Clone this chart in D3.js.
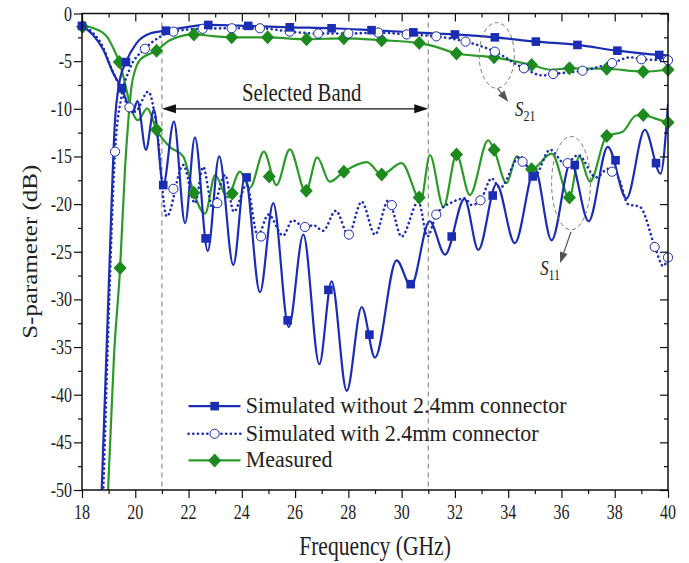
<!DOCTYPE html>
<html>
<head>
<meta charset="utf-8">
<script src="https://cdn.jsdelivr.net/npm/d3@7"></script>
<style>
  body { margin: 0; background: #fff; }
  text { font-family: "Liberation Serif", "Times New Roman", serif; fill: #222; }
</style>
</head>
<body>
<svg id="chart" width="689" height="563"></svg>
<script>
// ---- data (GHz, dB) ----
const xMajor = [18, 20, 22, 24, 26, 28, 30, 32, 34, 36, 38, 40];
const xMinor = d3.range(19, 40, 2);
const yMajor = [0, -5, -10, -15, -20, -25, -30, -35, -40, -45, -50];
const yMinor = d3.range(-2.5, -50, -5);

// S11, simulated without connector (solid blue)
const s11Sim = [[18.0,-1.3],[18.4,-2.2],[18.8,-3.8],[19.18,-6.3],[19.49,-7.85],[19.75,-9.7],[19.9,-10.4],
  [20.08,-9.2],[20.4,-14.3],[20.7,-10.1],[21.05,-18.0],[21.45,-11.35],[21.87,-22.0],[22.24,-13.0],
  [22.72,-24.9],[23.15,-15.0],[23.68,-26.4],[24.12,-17.05],[24.68,-29.25],[25.18,-19.9],[25.76,-32.9],
  [26.31,-23.2],[26.91,-36.8],[27.37,-28.1],[27.94,-39.6],[28.5,-30.8],[29.0,-36.1],[29.81,-25.9],
  [30.35,-28.6],[31.05,-21.8],[31.63,-25.3],[32.36,-19.45],[32.88,-24.8],[33.56,-17.9],[34.25,-24.1],
  [35.0,-16.3],[35.63,-23.8],[36.35,-15.6],[37.02,-21.8],[37.74,-14.0],[38.44,-19.4],[39.13,-12.2],
  [39.72,-16.8],[40.0,-9.5]];
const s11SimMarks = [[18.0,-1.3],[19.49,-7.85],[21.05,-18.0],[22.64,-23.6],[24.18,-17.2],[25.72,-32.2],
  [27.25,-29.0],[28.79,-33.7],[30.34,-28.4],[31.88,-23.4],[33.42,-19.1],[34.92,-17.1],[36.5,-15.9],
  [38.03,-15.4],[39.55,-15.7]];

// S21, simulated without connector (solid blue)
const s21Sim = [[18.55,-65],[18.74,-50],[19.0,-29],[19.24,-11.2],[19.4,-7.3],[19.65,-5.1],[20.05,-3.1],
  [20.55,-2.1],[21.15,-1.8],[22.0,-1.4],[22.74,-1.2],[24.24,-1.3],[25.8,-1.45],[27.37,-1.55],[28.87,-1.75],
  [30.44,-1.98],[32.0,-2.2],[33.5,-2.5],[35.04,-2.95],[36.6,-3.3],[38.1,-3.9],[39.67,-4.35],[40.0,-4.4]];
const s21SimMarks = [[19.65,-5.1],[21.15,-1.8],[22.74,-1.2],[24.24,-1.3],[25.8,-1.45],[27.37,-1.55],
  [28.87,-1.75],[30.44,-1.98],[32.0,-2.2],[33.5,-2.5],[35.04,-2.95],[36.6,-3.3],[38.1,-3.9],[39.67,-4.35]];

// S11, simulated with connector (dotted blue)
const s11Conn = [[18.0,-1.3],[18.4,-2.0],[18.8,-3.6],[19.05,-5.4],[19.35,-7.3],[19.55,-8.7],[19.78,-9.85],
  [19.99,-10.3],[20.49,-8.2],[20.8,-11.9],[21.18,-21.3],[21.8,-15.9],[22.24,-19.9],[22.55,-16.1],
  [22.9,-20.4],[23.37,-16.95],[23.7,-20.8],[24.18,-18.0],[24.6,-23.3],[25.0,-21.1],[25.55,-23.3],
  [25.9,-21.7],[26.4,-22.5],[26.68,-22.2],[27.05,-22.8],[27.53,-20.7],[28.0,-23.2],[28.5,-19.75],
  [29.0,-23.2],[29.5,-19.6],[30.0,-23.4],[30.63,-19.75],[30.97,-23.4],[31.3,-21.1],[31.94,-19.75],
  [32.38,-19.4],[32.63,-20.1],[32.96,-19.6],[33.38,-17.3],[33.69,-18.3],[34.44,-15.0],[34.98,-17.1],
  [35.57,-14.3],[36.15,-15.8],[36.63,-14.85],[37.3,-17.2],[37.75,-16.3],[38.15,-17.3],[38.5,-20.0],
  [38.95,-20.3],[39.5,-24.4],[39.82,-26.5],[40.0,-25.6]];
const s11ConnMarks = [[19.78,-9.85],[21.43,-18.4],[23.08,-19.9],[24.72,-23.4],[26.37,-22.4],[28.02,-23.2],
  [29.63,-20.1],[31.3,-21.1],[32.96,-19.6],[34.54,-15.55],[36.23,-15.7],[37.9,-16.6],[39.5,-24.5],[40.0,-25.6]];

// S21, simulated with connector (dotted blue)
const s21Conn = [[18.6,-65],[18.8,-50],[19.0,-32],[19.24,-14.5],[19.5,-8.5],[19.78,-5.9],[20.36,-3.7],
  [20.9,-2.5],[21.43,-1.9],[22.53,-1.6],[23.62,-1.55],[24.68,-1.55],[25.8,-1.9],[26.87,-2.1],[28.0,-2.1],
  [29.12,-2.0],[30.19,-2.2],[31.3,-2.4],[32.4,-2.95],[33.5,-4.0],[34.59,-5.75],[35.3,-6.5],[35.69,-6.35],
  [36.79,-6.0],[37.9,-5.2],[38.6,-4.6],[39.0,-4.8],[40.0,-4.9]];
const s21ConnMarks = [[19.24,-14.5],[20.36,-3.7],[21.43,-1.9],[22.53,-1.6],[23.62,-1.55],[24.68,-1.55],
  [25.8,-1.9],[26.87,-2.1],[28.0,-2.1],[29.12,-2.0],[30.19,-2.2],[31.3,-2.4],[32.4,-2.95],[33.5,-4.0],
  [34.59,-5.75],[35.69,-6.35],[36.79,-6.0],[37.9,-5.2],[39.0,-4.8],[40.0,-4.9]];

// S11, measured (green)
const s11Meas = [[18.0,-1.3],[18.43,-1.55],[18.93,-2.4],[19.2,-3.8],[19.4,-5.1],[19.55,-6.6],[19.86,-10.1],
  [20.1,-11.2],[20.45,-9.95],[20.8,-12.2],[21.3,-14.0],[21.8,-15.0],[22.18,-18.7],[22.62,-21.0],
  [23.0,-16.95],[23.45,-19.3],[23.93,-16.6],[24.3,-18.3],[24.83,-14.5],[25.3,-18.0],[25.8,-14.25],
  [26.4,-18.7],[26.83,-15.1],[27.3,-17.65],[27.83,-16.6],[28.7,-15.6],[29.25,-16.9],[30.0,-15.7],
  [30.72,-19.6],[31.06,-14.85],[31.57,-20.3],[32.06,-14.8],[32.56,-19.05],[33.25,-13.3],[33.47,-14.3],
  [33.94,-17.8],[34.32,-15.0],[34.88,-16.35],[35.63,-14.7],[36.3,-19.3],[36.67,-15.0],[37.07,-17.65],
  [37.7,-12.85],[38.3,-12.4],[38.8,-10.7],[39.07,-10.65],[39.5,-11.0],[40.0,-11.45]];
const s11MeasMarks = [[18.02,-1.4],[19.4,-5.1],[20.8,-12.2],[22.2,-18.8],[23.64,-18.9],[25.03,-17.1],
  [26.42,-18.6],[27.83,-16.6],[29.25,-16.9],[30.66,-19.3],[32.06,-14.8],[33.47,-14.3],[34.88,-16.35],
  [36.3,-19.3],[37.7,-12.85],[39.07,-10.65],[40.0,-11.45]];

// S21, measured (green)
const s21Meas = [[18.7,-65],[18.98,-50],[19.2,-36],[19.43,-26.7],[19.62,-16],[19.74,-11.2],[19.85,-7.8],
  [20.0,-5.9],[20.2,-4.8],[20.8,-3.9],[21.3,-2.8],[22.2,-2.2],[23.0,-2.4],[23.62,-2.5],[24.97,-2.5],
  [26.43,-2.7],[27.83,-2.6],[29.25,-2.8],[30.66,-3.1],[31.3,-3.5],[32.06,-4.2],[33.47,-4.6],[34.88,-5.4],
  [35.6,-5.9],[36.3,-5.75],[37.7,-5.8],[39.07,-6.1],[40.0,-5.9]];
const s21MeasMarks = [[19.43,-26.7],[20.8,-3.9],[22.2,-2.2],[23.62,-2.5],[24.97,-2.5],[26.43,-2.7],
  [27.83,-2.6],[29.25,-2.8],[30.66,-3.1],[32.06,-4.2],[33.47,-4.6],[34.88,-5.4],[36.3,-5.75],[37.7,-5.8],
  [39.07,-6.1],[40.0,-5.9]];

const bandEdges = [21, 31];
const legendNames = ["Simulated without 2.4mm connector", "Simulated with 2.4mm connector", "Measured"];

// ---- layout ----
const blue = "#1b2db3", green = "#2b9a2b", greenMark = "#1d8a1d";
const svg = d3.select("#chart");
const x = d3.scaleLinear().domain([18, 40]).range([82, 668]);
const y = d3.scaleLinear().domain([-50, 0]).range([490, 13.5]);
const sx = 0.8;   // the original figure is horizontally squeezed

svg.append("defs").append("clipPath").attr("id", "clip")
  .append("rect").attr("x", x(18)).attr("y", y(0)).attr("width", x(40) - x(18)).attr("height", y(-50) - y(0));

function txt(g, px, py, str, size, anchor, squeeze) {
  return g.append("text")
    .attr("transform", `translate(${px},${py}) scale(${squeeze || sx},1)`)
    .attr("text-anchor", anchor || "start")
    .style("font-size", size + "px")
    .text(str);
}

// band lines
svg.selectAll(".band").data(bandEdges).join("line")
  .attr("x1", d => x(d)).attr("x2", d => x(d))
  .attr("y1", y(0)).attr("y2", y(-50))
  .attr("stroke", "#777").attr("stroke-width", 1).attr("stroke-dasharray", "5,4");

// curves
const line = d3.line().x(d => x(d[0])).y(d => y(d[1])).curve(d3.curveMonotoneX);
const plot = svg.append("g").attr("clip-path", "url(#clip)");

function solid(data, color) {
  plot.append("path").datum(data).attr("d", line)
    .attr("fill", "none").attr("stroke", color).attr("stroke-width", 2.2);
}
function dotted(data, color) {
  plot.append("path").datum(data).attr("d", line)
    .attr("fill", "none").attr("stroke", color).attr("stroke-width", 2.6)
    .attr("stroke-linecap", "round").attr("stroke-dasharray", "0.1,4.6");
}
solid(s11Meas, green);
solid(s21Meas, green);
dotted(s11Conn, blue);
dotted(s21Conn, blue);
solid(s11Sim, blue);
solid(s21Sim, blue);

function square(g, px, py) {
  g.append("rect").attr("x", px - 4.3).attr("y", py - 4.3).attr("width", 8.6).attr("height", 8.6).attr("fill", blue);
}
function circle(g, px, py) {
  g.append("circle").attr("cx", px).attr("cy", py).attr("r", 4.6)
    .attr("fill", "#fff").attr("stroke", blue).attr("stroke-width", 1);
}
function diamond(g, px, py) {
  g.append("path").attr("d", `M${px},${py - 7}L${px + 6.5},${py}L${px},${py + 7}L${px - 6.5},${py}Z`).attr("fill", greenMark);
}
const marks = svg.append("g");
s11MeasMarks.concat(s21MeasMarks).forEach(d => diamond(marks, x(d[0]), y(d[1])));
s11ConnMarks.concat(s21ConnMarks).forEach(d => circle(marks, x(d[0]), y(d[1])));
s11SimMarks.concat(s21SimMarks).forEach(d => square(marks, x(d[0]), y(d[1])));

// axes
function styleAxis(g) {
  g.select(".domain").remove();
  g.selectAll(".tick line").attr("stroke", "#111").attr("stroke-width", 1.2);
  g.selectAll(".tick text").remove();
}
svg.append("g").attr("transform", `translate(0,${y(-50)})`)
  .call(d3.axisBottom(x).tickValues(xMajor).tickSize(8)).call(styleAxis);
svg.append("g").attr("transform", `translate(0,${y(-50)})`)
  .call(d3.axisBottom(x).tickValues(xMinor).tickSize(4)).call(styleAxis);
svg.append("g").attr("transform", `translate(0,${y(0)})`)
  .call(d3.axisTop(x).tickValues(xMajor).tickSize(-8)).call(styleAxis);
svg.append("g").attr("transform", `translate(0,${y(0)})`)
  .call(d3.axisTop(x).tickValues(xMinor).tickSize(-4)).call(styleAxis);
svg.append("g").attr("transform", `translate(${x(18)},0)`)
  .call(d3.axisLeft(y).tickValues(yMajor).tickSize(8)).call(styleAxis);
svg.append("g").attr("transform", `translate(${x(18)},0)`)
  .call(d3.axisLeft(y).tickValues(yMinor).tickSize(4)).call(styleAxis);
svg.append("g").attr("transform", `translate(${x(40)},0)`)
  .call(d3.axisRight(y).tickValues(yMajor).tickSize(-8)).call(styleAxis);
svg.append("g").attr("transform", `translate(${x(40)},0)`)
  .call(d3.axisRight(y).tickValues(yMinor).tickSize(-4)).call(styleAxis);

svg.append("rect").attr("x", x(18)).attr("y", y(0))
  .attr("width", x(40) - x(18)).attr("height", y(-50) - y(0))
  .attr("fill", "none").attr("stroke", "#111").attr("stroke-width", 1.5);

xMajor.forEach(v => txt(svg, x(v), y(-50) + 29, String(v), 20, "middle"));
yMajor.forEach(v => txt(svg, x(18) - 10, y(v) + 7, String(v), 20, "end"));

txt(svg, (x(18) + x(40)) / 2, 555, "Frequency (GHz)", 27, "middle");
svg.append("text")
  .attr("transform", `translate(37,${(y(0) + y(-50)) / 2}) rotate(-90) scale(1,${sx})`)
  .attr("text-anchor", "middle").style("font-size", "25px").text("S-parameter (dB)");

// selected band arrow
const ann = svg.append("g");
const ay = y(-10);
ann.append("line").attr("x1", x(21) + 12).attr("x2", x(31) - 12).attr("y1", ay).attr("y2", ay)
  .attr("stroke", "#111").attr("stroke-width", 1.2);
ann.append("path").attr("d", `M${x(21)},${ay}l14,-4.5l0,9Z`).attr("fill", "#111");
ann.append("path").attr("d", `M${x(31)},${ay}l-14,-4.5l0,9Z`).attr("fill", "#111");
txt(ann, x(26.25), ay - 8, "Selected Band", 26, "middle");

// S21 / S11 callouts: dashed ellipse plus an arrow leaving its lower edge
function callout(cf, cdb, rx, ry, fx, fdb, tf, tdb) {
  ann.append("ellipse").attr("cx", x(cf)).attr("cy", y(cdb))
    .attr("rx", x(cf + rx) - x(cf)).attr("ry", y(cdb - ry) - y(cdb))
    .attr("fill", "none").attr("stroke", "#777").attr("stroke-width", 1).attr("stroke-dasharray", "4,3");
  const x0 = x(fx), y0 = y(fdb), x1 = x(tf), y1 = y(tdb);
  const a = Math.atan2(y1 - y0, x1 - x0);
  ann.append("line").attr("x1", x0).attr("y1", y0)
    .attr("x2", x1 - 8 * Math.cos(a)).attr("y2", y1 - 8 * Math.sin(a))
    .attr("stroke", "#555").attr("stroke-width", 1.2);
  const p1 = [x1 - 11 * Math.cos(a) + 4 * Math.sin(a), y1 - 11 * Math.sin(a) - 4 * Math.cos(a)];
  const p2 = [x1 - 11 * Math.cos(a) - 4 * Math.sin(a), y1 - 11 * Math.sin(a) + 4 * Math.cos(a)];
  ann.append("path").attr("d", `M${x1},${y1}L${p1}L${p2}Z`).attr("fill", "#555");
}
callout(33.57, -4.4, 0.66, 3.44, 33.6, -7.85, 34.0, -9.25);
callout(36.36, -17.8, 0.73, 4.9, 36.36, -22.9, 35.95, -26.2);

function sLabel(px, py, sub) {
  const t = ann.append("text").attr("transform", `translate(${px},${py}) scale(${sx},1)`);
  t.append("tspan").style("font-style", "italic").style("font-size", "21px").text("S");
  t.append("tspan").attr("dy", 5).style("font-size", "15px").text(sub);
}
sLabel(x(34.26), y(-10.75), "21");
sLabel(x(35.2), y(-27.4), "11");

// legend
const leg = svg.append("g");
const rows = [y(-41.2), y(-44.1), y(-46.9)];
legendNames.forEach((name, i) => {
  const ry = rows[i];
  const l = leg.append("line").attr("x1", x(22)).attr("x2", x(23.95)).attr("y1", ry).attr("y2", ry)
    .attr("stroke-width", i === 1 ? 2.6 : 2.2).attr("stroke", i === 2 ? green : blue);
  if (i === 1) l.attr("stroke-linecap", "round").attr("stroke-dasharray", "0.1,4.6");
  const mx = x(22.98);
  if (i === 0) square(leg, mx, ry);
  if (i === 1) circle(leg, mx, ry);
  if (i === 2) diamond(leg, mx, ry);
  txt(leg, x(24.15), ry + 7, name, 24, "start", 0.915);
});
</script>
</body>
</html>
